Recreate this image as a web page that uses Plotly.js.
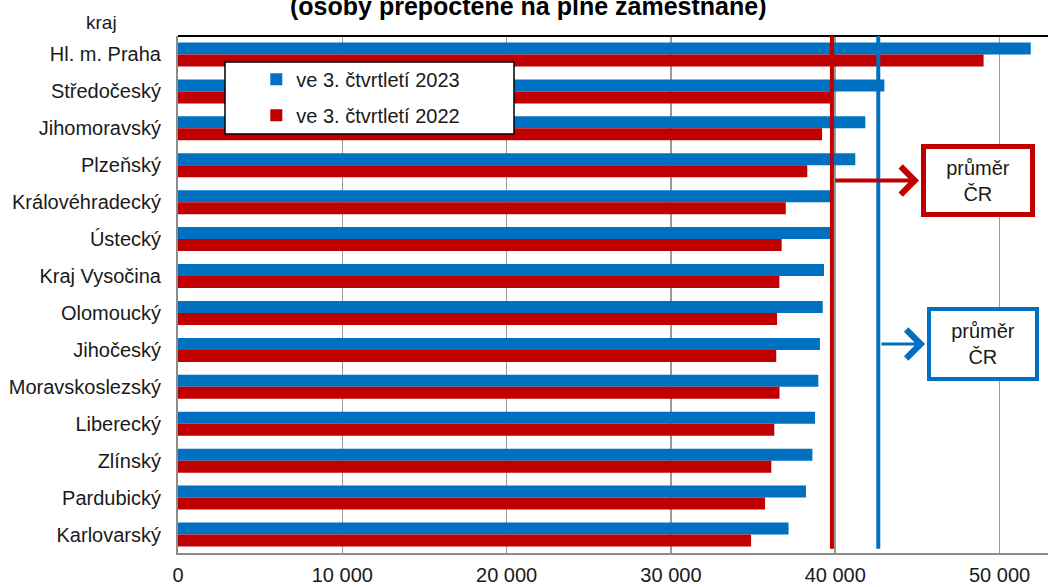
<!DOCTYPE html>
<html>
<head>
<meta charset="utf-8">
<script src="https://cdn.plot.ly/plotly-3.0.1.min.js"></script>
<style>html,body{margin:0;padding:0;background:#fff}#chart{width:1048px;height:587px}</style>
</head>
<body>
<div id="chart"></div>
<script>
const regions = ["Hl. m. Praha","Středočeský","Jihomoravský","Plzeňský","Královéhradecký","Ústecký","Kraj Vysočina","Olomoucký","Jihočeský","Moravskoslezský","Liberecký","Zlínský","Pardubický","Karlovarský"];
const values2023 = [51900,42990,41830,41220,39700,39700,39320,39240,39070,38970,38770,38610,38220,37160];
const values2022 = [49030,39750,39200,38300,36990,36740,36600,36460,36410,36610,36290,36110,35730,34880];
const avg2023 = 42620;
const avg2022 = 39800;
const name2023 = "ve 3. čtvrtletí 2023";
const name2022 = "ve 3. čtvrtletí 2022";
const xTicks = [0,10000,20000,30000,40000,50000];

const BLUE = "#0070C0", RED = "#C00000";
const FONT = "Arial, 'Liberation Sans', sans-serif";

const traces = [
  {type:"bar", orientation:"h", y:regions, x:values2023, name:name2023, legendgroup:"a",
   marker:{color:BLUE, line:{width:0}}, hoverinfo:"x+y"},
  {type:"bar", orientation:"h", y:regions, x:values2022, name:name2022, legendgroup:"b",
   marker:{color:RED, line:{width:0}}, hoverinfo:"x+y"}
];

const layout = {
  width:1048, height:587,
  margin:{l:178, r:0, t:36, b:34, pad:0},
  paper_bgcolor:"#fff", plot_bgcolor:"#fff",
  font:{family:FONT, size:20, color:"#1a1a1a"},
  separators:", ",
  barmode:"group", bargap:0.35, bargroupgap:0,
  showlegend:true,
  legend:{x:0.09, xanchor:"left", y:0.954, yanchor:"top", bgcolor:"rgba(0,0,0,0)",
          borderwidth:0, font:{size:20, family:FONT, color:"#1a1a1a"},
          traceorder:"grouped", tracegroupgap:7},
  xaxis:{range:[0,52950], tickvals:xTicks, tickformat:",d", showgrid:true,
         gridcolor:"#9a9a9a", gridwidth:1.5, zeroline:false, showline:true,
         linecolor:"#8c8c8c", linewidth:2, ticks:"", ticklabelstandoff:3,
         tickfont:{size:20, family:FONT, color:"#1a1a1a"}, fixedrange:true},
  yaxis:{type:"category", categoryorder:"array", categoryarray:regions, autorange:"reversed",
         showgrid:false, zeroline:false, showline:true, linecolor:"#8c8c8c", linewidth:2,
         ticks:"", ticklabelstandoff:11, tickfont:{size:20, family:FONT, color:"#1a1a1a"},
         fixedrange:true},
  shapes:[
    {type:"line", xref:"paper", yref:"paper", x0:0, x1:1, y0:1, y1:1, line:{color:"#000", width:2}},
    {type:"line", xref:"x", yref:"paper", x0:avg2022, x1:avg2022, y0:0.008, y1:1, line:{color:RED, width:4}, layer:"above"},
    {type:"line", xref:"x", yref:"paper", x0:avg2023, x1:avg2023, y0:0.008, y1:1, line:{color:BLUE, width:4}, layer:"above"},
    {type:"rect", xref:"paper", yref:"paper", x0:(225-178)/870, x1:(514-178)/870, y0:(553-134)/517, y1:(553-62)/517,
     fillcolor:"#fff", line:{color:"#000", width:1.5}, layer:"above"}
  ],
  annotations:[
    {text:"<b>(osoby přepočtené na plné zaměstnané)</b>", xref:"paper", yref:"paper", x:(528-178)/870, y:1,
     xanchor:"center", yanchor:"middle", yshift:30, showarrow:false,
     font:{size:25, family:FONT, color:"#000"}},
    {text:"kraj", xref:"paper", yref:"paper", x:(101-178)/870, y:(553-22)/517, xanchor:"center", yanchor:"middle",
     showarrow:false, font:{size:19, family:FONT, color:"#1a1a1a"}},
    {text:"průměr<br>ČR", xref:"paper", yref:"paper", x:(977.5-178)/870, y:(553-180)/517, xanchor:"center", yanchor:"middle",
     showarrow:false, width:104, height:63, borderwidth:5, bordercolor:RED, bgcolor:"#fff", borderpad:0,
     font:{size:20, family:FONT, color:"#1a1a1a"}},
    {text:"průměr<br>ČR", xref:"paper", yref:"paper", x:(982.5-178)/870, y:(553-344)/517, xanchor:"center", yanchor:"middle",
     showarrow:false, width:104, height:66, borderwidth:4, bordercolor:BLUE, bgcolor:"#fff", borderpad:0,
     font:{size:20, family:FONT, color:"#1a1a1a"}},
    {text:"", xref:"x", yref:"paper", x:(919-178)/16.43*1000, y:(553-180.5)/517, axref:"x", ayref:"pixel",
     ax:avg2022+100, ay:0, showarrow:true, arrowhead:4, arrowsize:1.35, arrowwidth:4, arrowcolor:RED, standoff:0},
    {text:"", xref:"x", yref:"paper", x:(925-178)/16.43*1000, y:(553-344)/517, axref:"x", ayref:"pixel",
     ax:avg2023+100, ay:0, showarrow:true, arrowhead:4, arrowsize:1.85, arrowwidth:3, arrowcolor:BLUE, standoff:0}
  ]
};

Plotly.newPlot("chart", traces, layout, {staticPlot:true, displayModeBar:false});
</script>
</body>
</html>
